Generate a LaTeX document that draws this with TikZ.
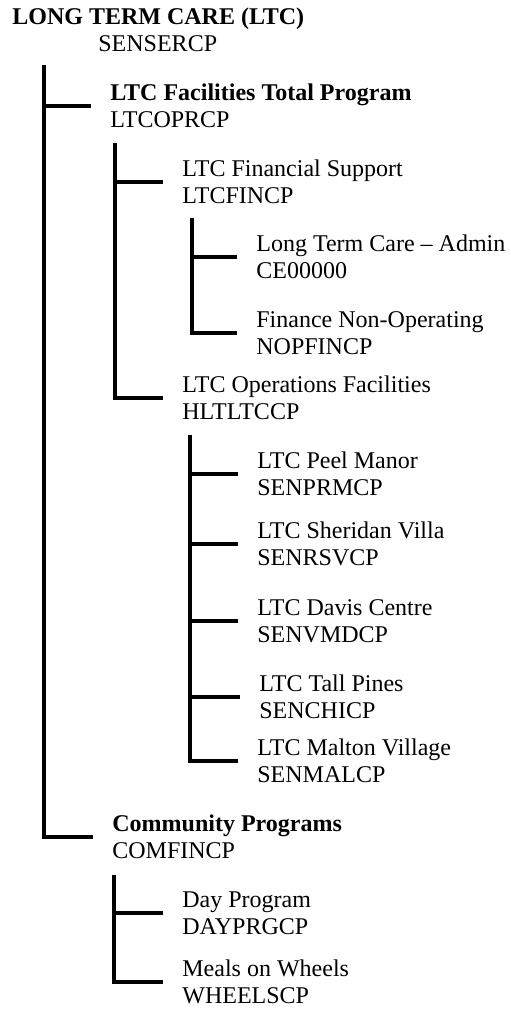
\documentclass[tikz,border=0pt]{standalone}
\usepackage{fontspec}
\setmainfont{Liberation Serif}

\begin{document}
\begin{tikzpicture}[
  x=0.5pt, y=-0.5pt,
  head/.style={anchor=base west, inner sep=0pt, font=\fontsize{12}{13.5}\selectfont},
  unit/.style={anchor=west, inner sep=0pt, align=left, font=\fontsize{12}{13.5}\selectfont},
  branch/.style={line width=1.7pt, shorten >=9.75pt}
]
\useasboundingbox (0,0) rectangle (510,1012);

\node[head] (root) at (12,25) {\textbf{LONG TERM CARE (LTC)}};
\node[head] (rootcode) at (98,51) {SENSERCP};

\node[unit] (fac) at (110,106) {\textbf{LTC Facilities Total Program}\\LTCOPRCP};
\node[unit] (fin) at (182,182) {LTC Financial Support\\LTCFINCP};
\node[unit] (admin) at (256,257) {Long Term Care -- Admin\\CE00000};
\node[unit] (nopfin) at (256,333) {Finance Non-Operating\\NOPFINCP};
\node[unit] (ops) at (182,398) {LTC Operations Facilities\\HLTLTCCP};
\node[unit] (peel) at (257,474) {LTC Peel Manor\\SENPRMCP};
\node[unit] (sher) at (257,544) {LTC Sheridan Villa\\SENRSVCP};
\node[unit] (davis) at (257,621) {LTC Davis Centre\\SENVMDCP};
\node[unit] (tall) at (259,697) {LTC Tall Pines\\SENCHICP};
\node[unit] (malton) at (257,761) {LTC Malton Village\\SENMALCP};
\node[unit] (comm) at (112,837) {\textbf{Community Programs}\\COMFINCP};
\node[unit] (day) at (182,913) {Day Program\\DAYPRGCP};
\node[unit] (meals) at (182,982) {Meals on Wheels\\WHEELSCP};

\coordinate (t1) at (44,65);
\coordinate (t2) at (115,143);
\coordinate (t3) at (192,218);
\coordinate (t4) at (190,435);
\coordinate (t5) at (114,875);

\draw[branch] (t1) |- (comm.west);
\draw[branch] (t1) |- (fac.west);
\draw[branch] (t2) |- (ops.west);
\draw[branch] (t2) |- (fin.west);
\draw[branch] (t3) |- (nopfin.west);
\draw[branch] (t3) |- (admin.west);
\draw[branch] (t4) |- (malton.west);
\draw[branch] (t4) |- (tall.west);
\draw[branch] (t4) |- (davis.west);
\draw[branch] (t4) |- (sher.west);
\draw[branch] (t4) |- (peel.west);
\draw[branch] (t5) |- (meals.west);
\draw[branch] (t5) |- (day.west);
\end{tikzpicture}
\end{document}
